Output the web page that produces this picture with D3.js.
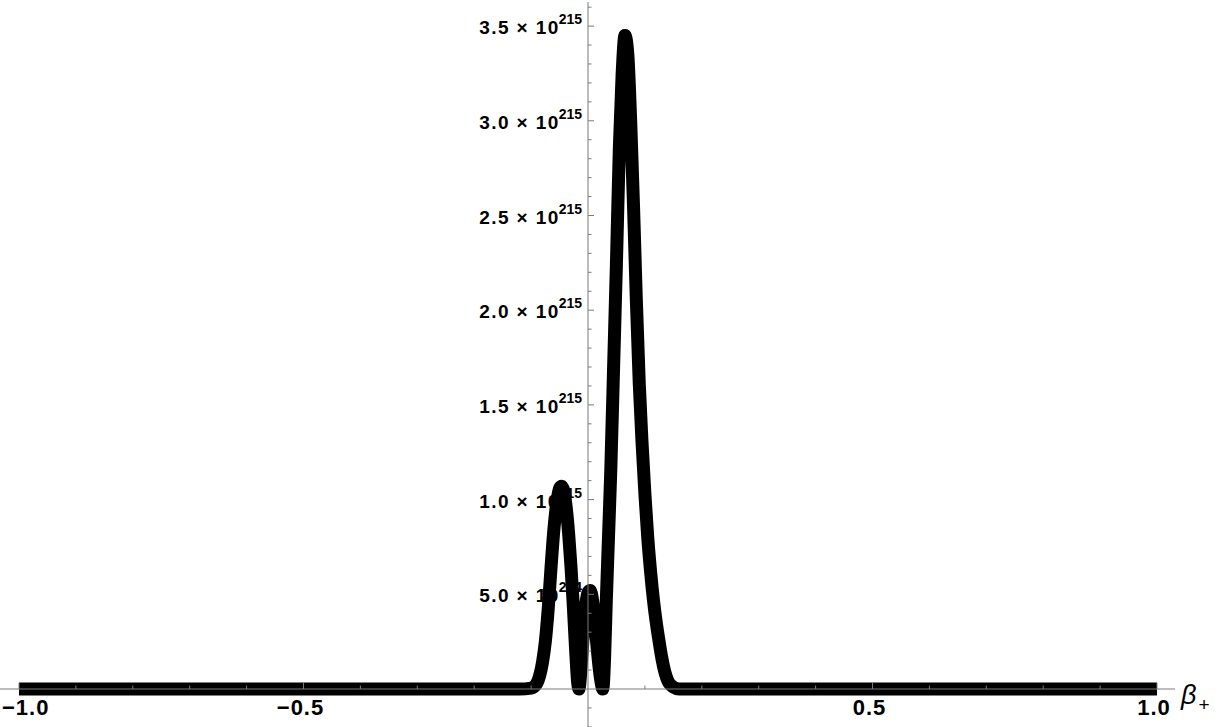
<!DOCTYPE html>
<html><head><meta charset="utf-8">
<script src="https://cdn.jsdelivr.net/npm/d3@7"></script>
<style>body{margin:0;background:#fff}svg{display:block}</style>
</head><body>
<script>
// beta_+ values and curve values (units of 1e215)
const betaValues = [-1.0,-0.5,-0.15,-0.12,-0.10,-0.09,-0.085,-0.08,-0.075,-0.07,-0.065,-0.06,-0.055,-0.05,-0.046,-0.042,-0.038,-0.034,-0.030,-0.026,-0.022,-0.018,-0.016,-0.012,-0.008,-0.004,0.000,0.004,0.008,0.012,0.016,0.020,0.024,0.026,0.029,0.032,0.036,0.040,0.045,0.050,0.055,0.060,0.065,0.070,0.075,0.080,0.085,0.090,0.095,0.100,0.105,0.110,0.115,0.120,0.125,0.130,0.135,0.140,0.150,0.16,0.20,0.5,1.0];
const curveValues = [0,0,0,0,0.005,0.03,0.07,0.14,0.25,0.42,0.64,0.84,0.98,1.06,1.07,1.04,0.95,0.82,0.65,0.45,0.22,0.03,0,0.12,0.30,0.44,0.51,0.52,0.47,0.36,0.22,0.10,0.02,0,0.15,0.45,0.80,1.15,1.70,2.25,2.85,3.25,3.45,3.35,3.0,2.55,2.05,1.62,1.30,1.03,0.80,0.62,0.47,0.35,0.25,0.16,0.09,0.045,0.01,0,0,0,0];
const xTickValues = [-1.0,-0.5,0.5,1.0];
const xTickLabels = ["\u22121.0","\u22120.5","0.5","1.0"];
const yTickValues = [0.5,1.0,1.5,2.0,2.5,3.0,3.5];
const yTickMantissa = ["5.0","1.0","1.5","2.0","2.5","3.0","3.5"];
const yTickExponent = ["214","215","215","215","215","215","215"];

const W=1220,H=727;
const svg=d3.select("body").append("svg").attr("width",W).attr("height",H);
const x=d3.scaleLinear().domain([-1,1]).range([19,1157]);
const y=d3.scaleLinear().domain([0,1]).range([689,499.6]);
const data=betaValues.map((b,i)=>[b,curveValues[i]]);
const font="Liberation Sans, Arial, sans-serif";

// y tick labels (drawn below the curve)
const yl=svg.selectAll(".yl").data(yTickValues).enter().append("text")
  .attr("x",582).attr("y",d=>y(d)+8).attr("text-anchor","end")
  .attr("font-family",font).attr("font-weight","bold")
  .attr("font-size",19);
yl.append("tspan").attr("letter-spacing",1.4).text((d,i)=>yTickMantissa[i]+" \u00d7 10");
yl.append("tspan").attr("font-size",14).attr("dy",-10).attr("dx",-1).text((d,i)=>yTickExponent[i]);

// x tick labels
const xl=svg.selectAll(".xl").data(xTickValues).enter().append("text")
  .attr("x",d=>x(d)-3).attr("y",y(0)+26).attr("text-anchor","middle")
  .attr("font-family",font).attr("font-weight","bold")
  .attr("letter-spacing",1)
  .attr("font-size",22).text((d,i)=>xTickLabels[i]);
xl.each(function(){
  const b=this.getBBox();
  if(b.x<2){d3.select(this).attr("x",+d3.select(this).attr("x")+(2-b.x));}
  if(b.x+b.width>W-2){d3.select(this).attr("x",+d3.select(this).attr("x")-(b.x+b.width-W+2));}
});

// curve
svg.append("path").datum(data)
  .attr("d",d3.line().x(d=>x(d[0])).y(d=>y(d[1])).curve(d3.curveMonotoneX))
  .attr("fill","none").attr("stroke","#000").attr("stroke-width",13)
  .attr("stroke-linejoin","miter").attr("stroke-linecap","butt");

const axisColor="#7a7a7a";
// x axis
svg.append("line").attr("x1",0).attr("x2",1175).attr("y1",y(0)).attr("y2",y(0))
  .attr("stroke",axisColor).attr("stroke-width",1);
// y axis
svg.append("line").attr("x1",x(0)).attr("x2",x(0)).attr("y1",2).attr("y2",H)
  .attr("stroke",axisColor).attr("stroke-width",1);

// x minor/major ticks
const xMinor=d3.range(-10,11).map(i=>i/10).filter(v=>Math.abs(v)>1e-9);
svg.selectAll(".xt").data(xMinor).enter().append("line")
  .attr("x1",d=>x(d)).attr("x2",d=>x(d)).attr("y1",y(0))
  .attr("y2",d=>y(0)-(Math.abs(Math.abs(d*2)-Math.round(Math.abs(d*2)))<1e-9?6:3.5))
  .attr("stroke",axisColor).attr("stroke-width",1);
// y minor/major ticks
const yMinor=d3.range(-2,37).map(i=>i/10).filter(v=>Math.abs(v)>1e-9);
svg.selectAll(".yt").data(yMinor).enter().append("line")
  .attr("y1",d=>y(d)).attr("y2",d=>y(d)).attr("x1",x(0))
  .attr("x2",d=>x(0)+(Math.abs(d*2-Math.round(d*2))<1e-9?6:3.5))
  .attr("stroke",axisColor).attr("stroke-width",1);

// axis label
const lab=svg.append("text").attr("x",1181).attr("y",704)
  .attr("font-family",font).attr("font-style","italic").attr("font-size",27);
lab.append("tspan").text("\u03b2");
lab.append("tspan").attr("font-style","normal").attr("font-size",19).attr("dy",7).attr("dx",2).text("+");
</script>
</body></html>
